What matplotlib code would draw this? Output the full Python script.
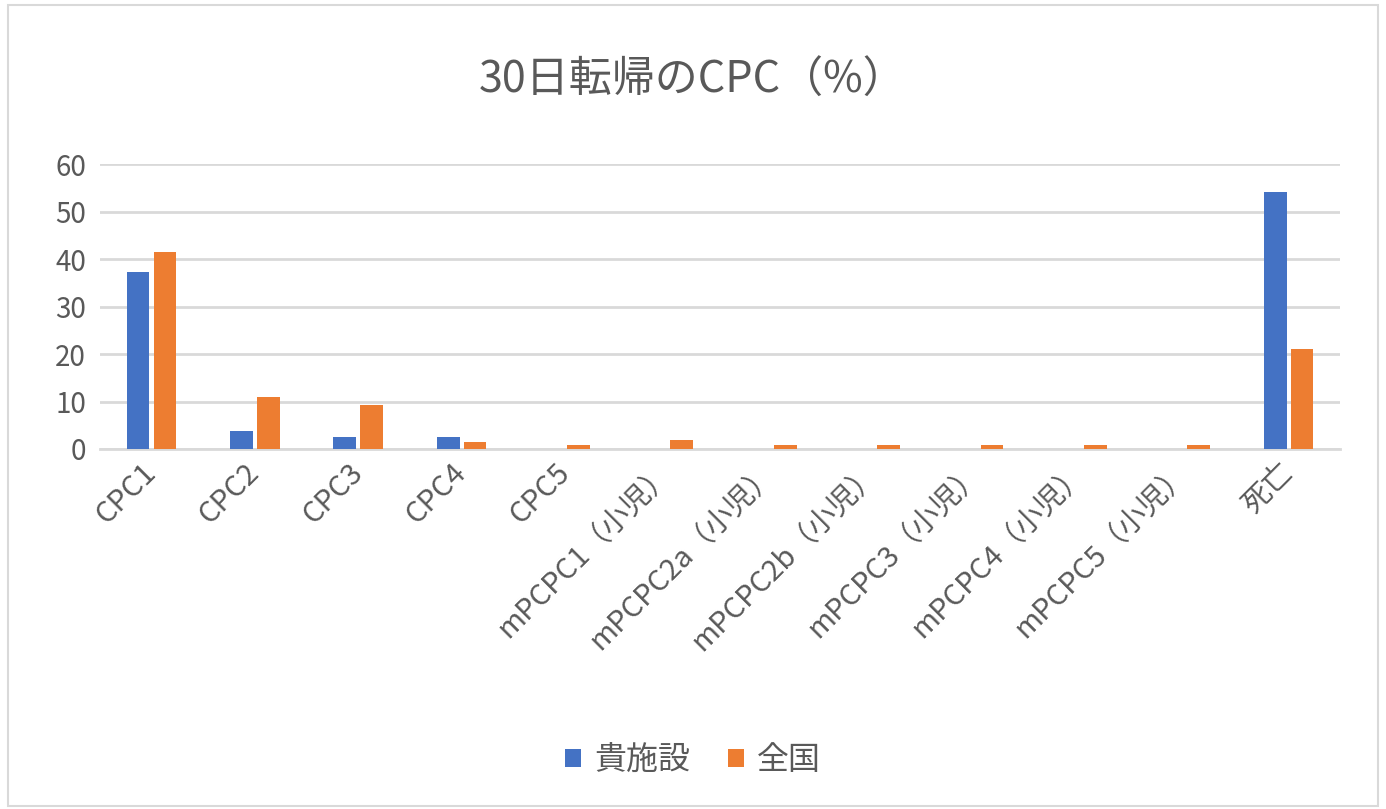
import matplotlib.pyplot as plt
import numpy as np

plt.rcParams['font.family'] = ['Noto Sans CJK JP', 'DejaVu Sans']

# Data
categories = ['CPC1', 'CPC2', 'CPC3', 'CPC4', 'CPC5',
              'mPCPC1（小児）', 'mPCPC2a（小児）', 'mPCPC2b（小児）',
              'mPCPC3（小児）', 'mPCPC4（小児）', 'mPCPC5（小児）', '死亡']
facility = [37.3, 3.8, 2.5, 2.5, 0, 0, 0, 0, 0, 0, 0, 54.1]
national = [41.5, 10.9, 9.3, 1.5, 0.8, 2.0, 0.8, 0.8, 0.8, 0.8, 0.8, 21.1]

fig = plt.figure(figsize=(13.86, 8.09), dpi=100)
ax = fig.add_axes([0.072, 0.445, 0.895, 0.352])

x = np.arange(len(categories))
w = 0.22
ax.bar(x - w / 2 - 0.02, facility, w, color='#4472C4', label='貴施設', zorder=3)
ax.bar(x + w / 2 + 0.02, national, w, color='#ED7D31', label='全国', zorder=3)

ax.set_xlim(-0.5, len(categories) - 0.5)
ax.set_ylim(0, 60)
ax.set_yticks(range(0, 61, 10))
ax.yaxis.grid(True, color='#D9D9D9', linewidth=2)
ax.tick_params(axis='y', length=0, labelsize=20, labelcolor='#595959', pad=10)
ax.tick_params(axis='x', length=0, labelsize=21, labelcolor='#595959', pad=14)
ax.set_xticks(x)
ax.set_xticklabels(categories, rotation=45, ha='right', va='center',
                   rotation_mode='anchor')
for s in ['top', 'right', 'left']:
    ax.spines[s].set_visible(False)
ax.spines['bottom'].set_color('#D9D9D9')
ax.spines['bottom'].set_linewidth(2)

fig.text(0.5, 0.9, '30日転帰のCPC（%）', ha='center', va='center',
         fontsize=31, color='#595959')

fig.legend(loc='center', bbox_to_anchor=(0.5, 0.06), ncol=2, frameon=False,
           fontsize=23, handlelength=0.5, handleheight=0.5, columnspacing=1.2,
           handletextpad=0.4, labelcolor='#595959')

fig.patches.append(plt.Rectangle((0.006, 0.004), 0.988, 0.99, transform=fig.transFigure,
                                 fill=False, edgecolor='#D9D9D9', linewidth=1.5))

fig.savefig('out.png', dpi=100)
